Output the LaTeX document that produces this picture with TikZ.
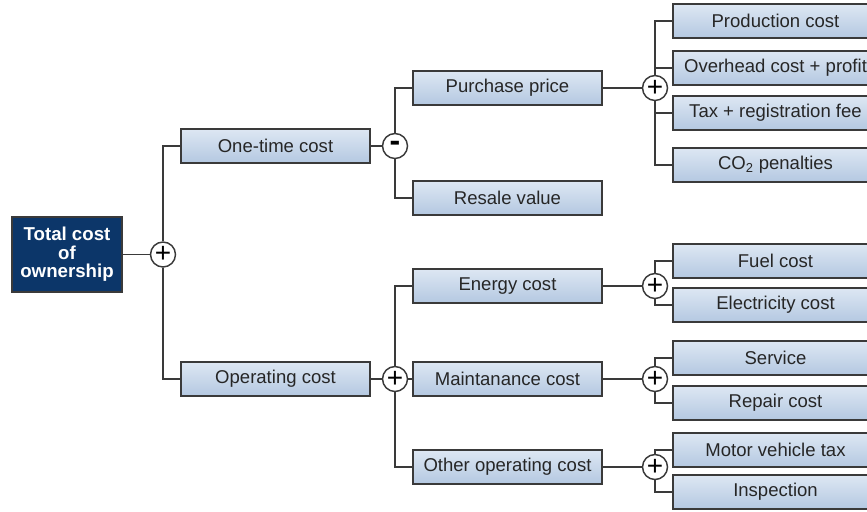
\documentclass[tikz,border=0pt]{standalone}
\usepackage{fontspec}
\setmainfont{Liberation Sans}

\definecolor{navy}{HTML}{0C3669}
\definecolor{boxtop}{HTML}{DDE7F3}
\definecolor{boxbottom}{HTML}{B4C8E1}
\definecolor{linegray}{HTML}{3A3A3A}

\begin{document}
\begin{tikzpicture}[x=0.75pt, y=-0.75pt, line width=1.1pt]

    \tikzset{block/.style={%
      draw=linegray,%
      rectangle,%
      top color=boxtop,%
      bottom color=boxbottom,%
      minimum width=141.75pt,%
      minimum height=25.5pt,%
      inner sep=0pt,%
      text=black!85,%
      font=\fontsize{13.9}{15}\selectfont}%
    };
    \tikzset{rootblock/.style={%
      draw=linegray,%
      rectangle,%
      fill=navy,%
      text=white,%
      align=center,%
      minimum width=82.5pt,%
      minimum height=56.25pt,%
      inner sep=0pt,%
      font=\fontsize{14}{13.9}\selectfont\bfseries}%
    };

    \tikzset{leaf/.style={block, minimum width=153.75pt}};
    \tikzset{sign/.style={draw=linegray, circle, fill=white, minimum size=18.75pt,
      inner sep=0pt, font=\fontsize{21}{21}\selectfont}};

    \useasboundingbox (0, 0) rectangle (867, 511);

    %%%%%%%%%
    % root  %
    %%%%%%%%%
    \node[rootblock] (tco) at (67, 254.5) {Total cost\\of\\ownership};
    \node[sign] (tcoplus) at (163, 254.5) {+};

    \node[block] (once) at (275.5, 146) {One-time cost};
    \node[block] (oper) at (275.5, 379) {Operating cost};

    %%%%%%%%%%%%%%%%%
    % one-time cost %
    %%%%%%%%%%%%%%%%%
    \node[sign, font=\fontsize{24}{24}\selectfont\bfseries] (onceminus) at (395, 146) {-};
    \node[block] (price) at (507.5, 88) {Purchase price};
    \node[block] (resale) at (507.5, 198) {Resale value};

    \node[sign] (priceplus) at (655, 88) {+};
    \node[leaf] (prod) at (775.5, 21) {Production cost};
    \node[leaf] (overhead) at (775.5, 68) {Overhead cost + profit};
    \node[leaf] (regfee) at (775.5, 113) {Tax + registration fee};
    \node[leaf] (co2) at (775.5, 165) {CO\textsubscript{2} penalties};

    %%%%%%%%%%%%%%%%%%
    % operating cost %
    %%%%%%%%%%%%%%%%%%
    \node[sign] (operplus) at (395, 379) {+};
    \node[block] (energy) at (507.5, 286) {Energy cost};
    \node[block] (maint) at (507.5, 379) {Maintanance cost};
    \node[block] (other) at (507.5, 467) {Other operating cost};

    \node[sign] (energyplus) at (655, 286) {+};
    \node[leaf] (fuel) at (775.5, 261) {Fuel cost};
    \node[leaf] (elec) at (775.5, 305) {Electricity cost};

    \node[sign] (maintplus) at (655, 379) {+};
    \node[leaf] (service) at (775.5, 358) {Service};
    \node[leaf] (repair) at (775.5, 403) {Repair cost};

    \node[sign] (otherplus) at (655, 467) {+};
    \node[leaf] (motortax) at (775.5, 450) {Motor vehicle tax};
    \node[leaf] (inspect) at (775.5, 492) {Inspection};

    % connectors
    \draw[linegray] (tco) -- (tcoplus);
    \draw[linegray] (tcoplus.north) |- (once.west);
    \draw[linegray] (tcoplus.south) |- (oper.west);

    \draw[linegray] (once) -- (onceminus);
    \draw[linegray] (onceminus.north) |- (price.west);
    \draw[linegray] (onceminus.south) |- (resale.west);

    \draw[linegray] (price) -- (priceplus);
    \draw[linegray] (priceplus.north) |- (prod.west);
    \draw[linegray] (priceplus.north) |- (overhead.west);
    \draw[linegray] (priceplus.south) |- (regfee.west);
    \draw[linegray] (priceplus.south) |- (co2.west);

    \draw[linegray] (oper) -- (operplus);
    \draw[linegray] (operplus.north) |- (energy.west);
    \draw[linegray] (operplus) -- (maint);
    \draw[linegray] (operplus.south) |- (other.west);

    \draw[linegray] (energy) -- (energyplus);
    \draw[linegray] (energyplus.north) |- (fuel.west);
    \draw[linegray] (energyplus.south) |- (elec.west);

    \draw[linegray] (maint) -- (maintplus);
    \draw[linegray] (maintplus.north) |- (service.west);
    \draw[linegray] (maintplus.south) |- (repair.west);

    \draw[linegray] (other) -- (otherplus);
    \draw[linegray] (otherplus.north) |- (motortax.west);
    \draw[linegray] (otherplus.south) |- (inspect.west);

\end{tikzpicture}
\end{document}
